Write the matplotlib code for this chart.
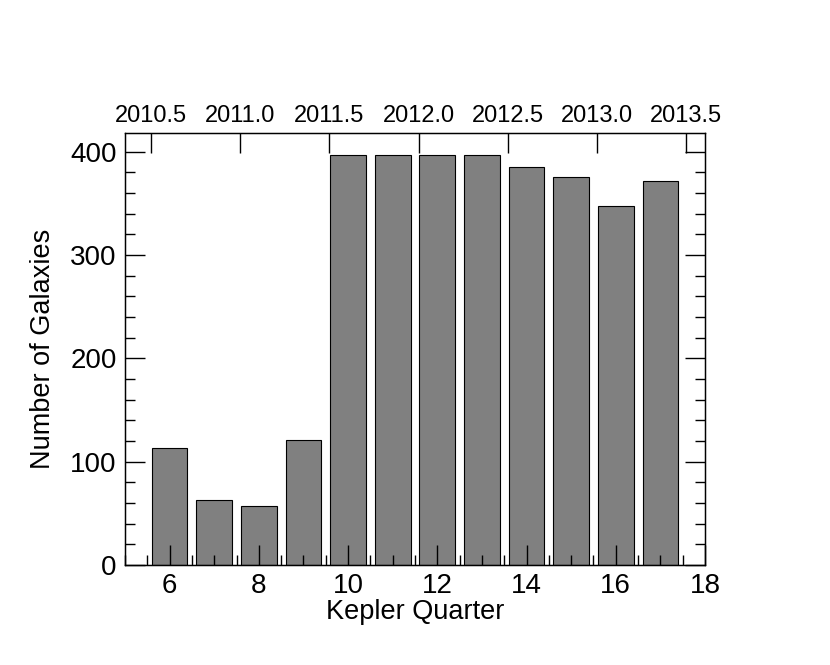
import numpy as np
import matplotlib
matplotlib.use('Agg')
import matplotlib.pyplot as plt
from matplotlib.ticker import MultipleLocator, FormatStrFormatter

plt.rcParams['font.family'] = ['Liberation Sans', 'DejaVu Sans']

# number of galaxies observed per Kepler quarter
quarters = [6, 7, 8, 9, 10, 11, 12, 13, 14, 15, 16, 17]
counts = [113, 63, 57, 121, 397, 397, 397, 397, 385, 375, 347, 372]
years = [2010.5, 2011.0, 2011.5, 2012.0, 2012.5, 2013.0, 2013.5]

# quarter -> calendar year (2010.5 lines up with quarter ~5.58)
q_ref = 5.583
yr_ref = 2010.5

fig = plt.figure(figsize=(8.3, 6.65), dpi=100)
ax = fig.add_axes([0.1506, 0.1504, 0.6988, 0.6496])

ax.bar(quarters, counts, width=0.8, color='#808080', edgecolor='black', linewidth=0.8)

ax.set_xlim(5, 18)
ax.set_ylim(0, 418)
ax.set_xlabel('Kepler Quarter', fontsize=19.5, labelpad=0)
ax.set_ylabel('Number of Galaxies', fontsize=19.5, labelpad=10)

ax.xaxis.set_major_locator(MultipleLocator(2))
ax.xaxis.set_minor_locator(MultipleLocator(0.5))
ax.yaxis.set_major_locator(MultipleLocator(100))
ax.yaxis.set_minor_locator(MultipleLocator(20))
ax.tick_params(which='both', direction='in', labelsize=20, width=1,
               bottom=True, left=True, right=True, top=False)
ax.tick_params(which='major', length=14.5, pad=6)
ax.tick_params(which='minor', length=7)
for s in ax.spines.values():
    s.set_linewidth(1)

# top axis in years
ax2 = ax.twiny()
ax2.set_xlim(yr_ref + (5 - q_ref) / 4, yr_ref + (18 - q_ref) / 4)
ax2.set_xticks(years)
ax2.xaxis.set_major_formatter(FormatStrFormatter('%.1f'))
ax2.tick_params(axis='x', direction='in', length=14.5, width=1, labelsize=17, pad=4)
ax2.xaxis.set_minor_locator(plt.NullLocator())

fig.savefig('out.png', dpi=100)
